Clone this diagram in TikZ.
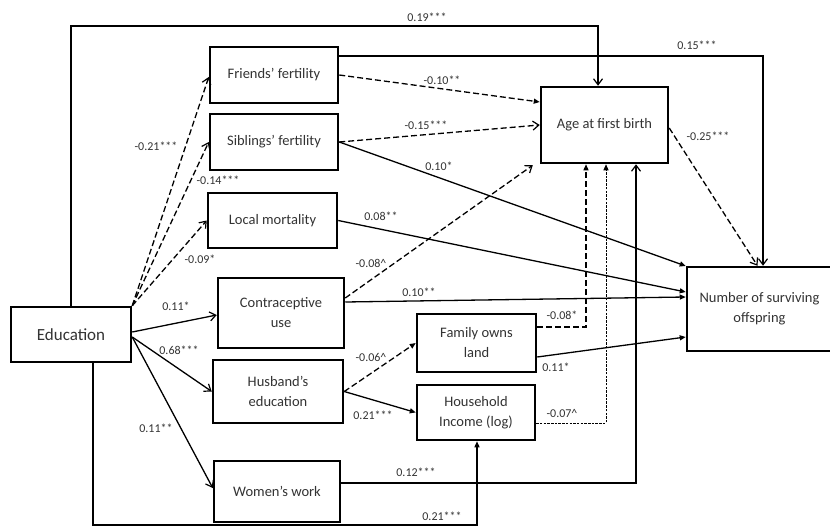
\documentclass[tikz,border=0pt]{standalone}
\usepackage{fontspec}
\setmainfont{Carlito}
\usetikzlibrary{arrows.meta}
\begin{document}
\begin{tikzpicture}[x=1pt,y=-1pt,
  box/.style={draw,line width=2.5pt,fill=white,align=center,inner sep=0pt,text=black!80,font=\fontsize{14.5}{17}\selectfont},
  conn/.style={line width=1.3pt},
  open/.style={conn,-{Straight Barb[length=6pt,width=9pt,line width=1.2pt]}},
  full/.style={conn,-{Triangle[length=6pt,width=5pt]}},
  dsh/.style={dash pattern=on 6pt off 3pt},
  fine/.style={line width=0.9pt,dash pattern=on 2.5pt off 1.2pt,-{Triangle[length=6pt,width=5pt]}},
  lab/.style={font=\fontsize{12}{14}\selectfont,inner sep=0pt,text=black!80}]
\clip (0,0) rectangle (830,527);
\fill[white] (0,0) rectangle (830,527);
% boxes
\node[box,minimum width=120,minimum height=55,font=\fontsize{17}{20}\selectfont] (edu) at (71,334.5) {Education};
\node[box,minimum width=128,minimum height=56] (friends) at (274,75) {Friends’ fertility};
\node[box,minimum width=128,minimum height=56] (siblings) at (274,142) {Siblings’ fertility};
\node[box,minimum width=129,minimum height=55] (mort) at (272.5,220.5) {Local mortality};
\node[box,minimum width=126,minimum height=70] (contra) at (281,313) {Contraceptive\\[3pt]use};
\node[box,minimum width=130,minimum height=63] (husb) at (278,391.5) {Husband’s\\[3pt]education};
\node[box,minimum width=126,minimum height=61] (work) at (277,491.5) {Women’s work};
\node[box,minimum width=127,minimum height=76] (age) at (604.5,125) {Age at first birth};
\node[box,minimum width=145,minimum height=84] (num) at (759.5,309) {Number of surviving\\[3pt]offspring};
\node[box,minimum width=119,minimum height=58] (land) at (476.5,343) {Family owns\\[3pt]land};
\node[box,minimum width=118,minimum height=55] (inc) at (476,412.5) {Household\\[3pt]Income (log)};
% helper coordinates
\coordinate (t1) at (71,26);
\coordinate (t2) at (598,26);
\coordinate (b1) at (93,525);
\coordinate (b2) at (477,525);
% long elbows
\draw[open] (edu.north) -- (t1) -- (t2) -- (age.north -| t2);
\draw[open] ([yshift=19pt]friends.east) -| ([xshift=3.5pt]num.north);
\draw[full] (edu.south -| b1) -- (b1) -- (b2) -- (inc.south -| b2);
\draw[full,dsh] ([yshift=16pt]land.east) -| ([xshift=-18.5pt]age.south);
\draw[fine] ([yshift=-10.5pt]inc.east) -| ([xshift=1.5pt]age.south);
\draw[open] ([yshift=8.5pt]work.east) -| ([xshift=31.5pt]age.south);
% from education
\draw[open,dsh] (edu.north east) -- ([yshift=-2pt]friends.west);
\draw[open,dsh] (edu.north east) -- (siblings.west);
\draw[open,dsh] (edu.north east) -- (mort.west);
\draw[open] ([yshift=2.5pt]edu.east) -- ([yshift=-2pt]contra.west);
\draw[open] ([yshift=-2.5pt]edu.east) -- (husb.west);
\draw[open] ([yshift=-2.5pt]edu.east) -- ([yshift=3.5pt]work.west);
% to age
\draw[full,dsh] (friends.east) -- ([yshift=23pt]age.west);
\draw[open,dsh] (siblings.east) -- (age.west);
\draw[open,dsh] ([yshift=15pt]contra.east) -- ([xshift=-7pt,yshift=-1pt]age.south west);
% to number
\draw[full] (siblings.east) -- ([yshift=43pt]num.west);
\draw[full] (mort.east) -- ([yshift=17pt]num.west);
\draw[full] ([yshift=11pt]contra.east) -- ([yshift=12pt]num.west);
\draw[full] ([yshift=-14pt]land.east) -- ([yshift=-28pt]num.west);
\draw[open,dsh] ([yshift=-3pt]age.east) -- ([xshift=-2pt]num.north);
% husband
\draw[full,dsh] (husb.east) -- (land.west);
\draw[full] (husb.east) -- (inc.west);
% labels
\node[lab] (l1) at (427,17) {0.19***};
\node[lab] (l2) at (697,45) {0.15***};
\node[lab] (l3) at (442,80) {-0.10**};
\node[lab] (l4) at (426,125) {-0.15***};
\node[lab] (l5) at (439,166) {0.10*};
\node[lab] (l6) at (708,136) {-0.25***};
\node[lab] (l7) at (156,146) {-0.21***};
\node[lab] (l8) at (218,180) {-0.14***};
\node[lab] (l9) at (200,259) {-0.09*};
\node[lab] (l10) at (381,216) {0.08**};
\node[lab] (l11) at (371,263) {-0.08\textasciicircum};
\node[lab] (l12) at (419,292) {0.10**};
\node[lab] (l13) at (176,306) {0.11*};
\node[lab] (l14) at (179,350) {0.68***};
\node[lab] (l15) at (156,428) {0.11**};
\node[lab] (l16) at (371,357) {-0.06\textasciicircum};
\node[lab] (l17) at (373,415) {0.21***};
\node[lab] (l18) at (562,315) {-0.08*};
\node[lab] (l19) at (556,367) {0.11*};
\node[lab] (l20) at (562,413) {-0.07\textasciicircum};
\node[lab] (l21) at (416,472) {0.12***};
\node[lab] (l22) at (442,516) {0.21***};
\end{tikzpicture}
\end{document}
